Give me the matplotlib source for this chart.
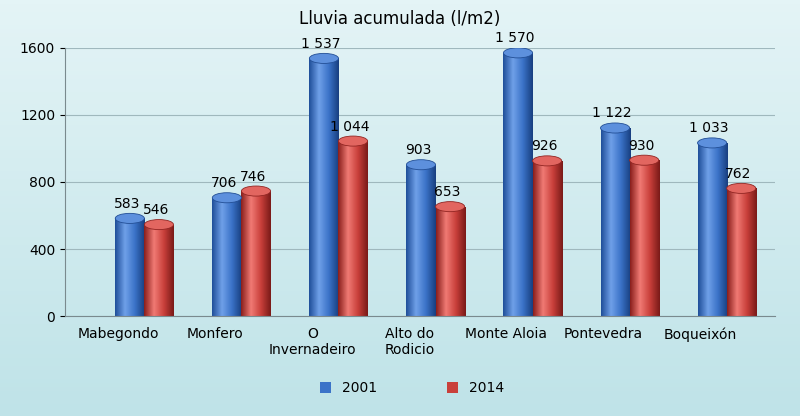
import numpy as np
import matplotlib.pyplot as plt
from matplotlib.patches import Rectangle, Ellipse, Patch
from matplotlib.colors import LinearSegmentedColormap

stations = ["Mabegondo", "Monfero", "O\nInvernadeiro", "Alto do\nRodicio",
            "Monte Aloia", "Pontevedra", "Boqueixón"]
rain_2001 = [583, 706, 1537, 903, 1570, 1122, 1033]
rain_2014 = [546, 746, 1044, 653, 926, 930, 762]

def fmt(v):
    return f"{v:,}".replace(",", " ")

blue_cm = LinearSegmentedColormap.from_list("b", ["#1f4f9a", "#6fa0e8", "#3b73c8", "#183f80"])
red_cm = LinearSegmentedColormap.from_list("r", ["#8a1f1c", "#f07a74", "#c9403b", "#7a1a18"])

fig = plt.figure(figsize=(8, 4.16), dpi=100)
fig.patch.set_facecolor("#d2ecef")
bg = fig.add_axes([0, 0, 1, 1], zorder=-1)
bg.imshow(np.linspace(0, 1, 100).reshape(-1, 1), cmap=LinearSegmentedColormap.from_list(
    "bg", ["#e4f4f6", "#bfe3e8"]), aspect="auto", extent=[0, 1, 0, 1])
bg.axis("off")

ax = fig.add_axes([0.081, 0.24, 0.888, 0.645])
ax.set_facecolor("none")
ax.set_xlim(-0.55, 6.77)
ax.set_ylim(0, 1600)
ax.set_yticks([0, 400, 800, 1200, 1600])
ax.yaxis.grid(True, color="#9fb8bd", lw=0.8)
ax.set_axisbelow(True)
for s in ["top", "right"]:
    ax.spines[s].set_visible(False)
ax.spines["left"].set_color("#7a8a8e")
ax.spines["bottom"].set_color("#7a8a8e")
ax.set_xticks(range(len(stations)))
ax.set_xticklabels(stations, fontsize=10)
ax.tick_params(axis="x", length=0, pad=8)
ax.tick_params(axis="y", labelsize=10)

grad = np.linspace(0, 1, 64).reshape(1, -1)
w = 0.3
eh = 60
for i, (a, b) in enumerate(zip(rain_2001, rain_2014)):
    for x, v, cm in [(i + 0.12, a, blue_cm), (i + 0.42, b, red_cm)]:
        rect = Rectangle((x - w / 2, 0), w, v, fc="none", ec="none")
        ax.add_patch(rect)
        im = ax.imshow(grad, cmap=cm, aspect="auto",
                       extent=[x - w / 2, x + w / 2, 0, v], zorder=2)
        im.set_clip_path(rect)
        ax.add_patch(Ellipse((x, v), w, eh, fc=cm(0.45), ec=cm(0.9), lw=0.6, zorder=3))
        ax.text(x - 0.03, v + 45, fmt(v), ha="center", va="bottom", fontsize=10, zorder=4)
ax.set_xlim(-0.55, 6.77)
ax.set_ylim(0, 1600)

fig.text(0.5, 0.955, "Lluvia acumulada (l/m2)", ha="center", va="center", fontsize=12)
fig.legend(handles=[Patch(fc="#3b73c8", label="2001"), Patch(fc="#c9403b", label="2014")],
           loc="center", bbox_to_anchor=(0.515, 0.067), ncol=2, frameon=False,
           fontsize=10, columnspacing=5, handlelength=0.8, handleheight=0.8)

fig.savefig("out.png", dpi=100, facecolor=fig.get_facecolor())
